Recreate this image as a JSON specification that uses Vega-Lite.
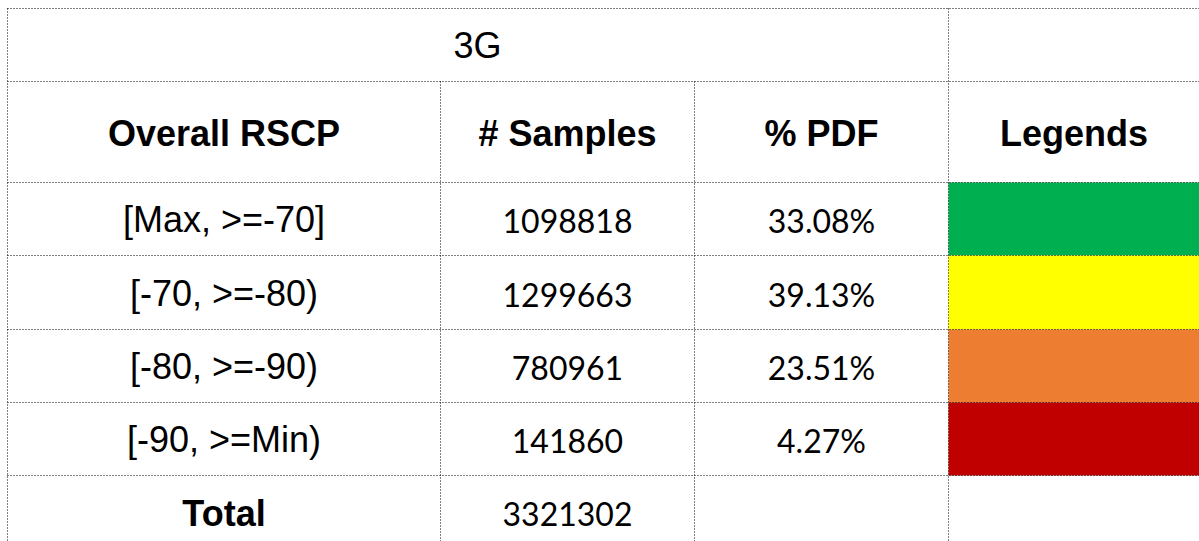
{
  "$schema": "https://vega.github.io/schema/vega-lite/v6.json",
  "width": 1199,
  "height": 541,
  "padding": 0,
  "autosize": {"type": "none"},
  "background": "white",
  "config": {"view": {"stroke": null}},
  "datasets": {
    "legendCells": [
      {"level": "[Max, >=-70]", "top": 2, "bottom": 3, "left": 3, "right": 4},
      {"level": "[-70, >=-80)", "top": 3, "bottom": 4, "left": 3, "right": 4},
      {"level": "[-80, >=-90)", "top": 4, "bottom": 5, "left": 3, "right": 4},
      {"level": "[-90, >=Min)", "top": 5, "bottom": 6, "left": 3, "right": 4}
    ],
    "grid": [
      {"x": 0, "x2": 4, "y": 0, "y2": 0},
      {"x": 0, "x2": 4, "y": 1, "y2": 1},
      {"x": 0, "x2": 4, "y": 2, "y2": 2},
      {"x": 0, "x2": 4, "y": 3, "y2": 3},
      {"x": 0, "x2": 4, "y": 4, "y2": 4},
      {"x": 0, "x2": 4, "y": 5, "y2": 5},
      {"x": 0, "x2": 4, "y": 6, "y2": 6},
      {"x": 0, "x2": 0, "y": 0, "y2": 7},
      {"x": 1, "x2": 1, "y": 1, "y2": 7},
      {"x": 2, "x2": 2, "y": 1, "y2": 7},
      {"x": 3, "x2": 3, "y": 0, "y2": 7}
    ],
    "cells": [
      {"text": "3G", "col": 1.146, "row": 0.5, "kind": "plain"},
      {"text": "Overall RSCP", "col": 0.5, "row": 1.5, "kind": "bold"},
      {"text": "# Samples", "col": 1.5, "row": 1.5, "kind": "bold"},
      {"text": "% PDF", "col": 2.5, "row": 1.5, "kind": "bold"},
      {"text": "Legends", "col": 3.5, "row": 1.5, "kind": "bold"},
      {"text": "[Max, >=-70]", "col": 0.5, "row": 2.5, "kind": "plain"},
      {"text": "1098818", "col": 1.5, "row": 2.5, "kind": "num"},
      {"text": "33.08%", "col": 2.5, "row": 2.5, "kind": "num"},
      {"text": "[-70, >=-80)", "col": 0.5, "row": 3.5, "kind": "plain"},
      {"text": "1299663", "col": 1.5, "row": 3.5, "kind": "num"},
      {"text": "39.13%", "col": 2.5, "row": 3.5, "kind": "num"},
      {"text": "[-80, >=-90)", "col": 0.5, "row": 4.5, "kind": "plain"},
      {"text": "780961", "col": 1.5, "row": 4.5, "kind": "num"},
      {"text": "23.51%", "col": 2.5, "row": 4.5, "kind": "num"},
      {"text": "[-90, >=Min)", "col": 0.5, "row": 5.5, "kind": "plain"},
      {"text": "141860", "col": 1.5, "row": 5.5, "kind": "num"},
      {"text": "4.27%", "col": 2.5, "row": 5.5, "kind": "num"},
      {"text": "Total", "col": 0.5, "row": 6.5, "kind": "bold"},
      {"text": "3321302", "col": 1.5, "row": 6.5, "kind": "num"}
    ]
  },
  "layer": [
    {
      "data": {"name": "legendCells"},
      "mark": {"type": "rect", "strokeWidth": 0},
      "encoding": {
        "x": {"field": "left", "type": "quantitative", "axis": null, "scale": {"domain": [0, 1, 2, 3, 4], "range": [7.5, 440.5, 694.5, 948.5, 1199.5], "nice": false, "zero": false}},
        "x2": {"field": "right"},
        "y": {"field": "top", "type": "quantitative", "axis": null, "scale": {"domain": [0, 1, 2, 3, 4, 5, 6, 7], "range": [8.5, 81.5, 182.5, 255.5, 329.5, 402.5, 475.5, 548.5], "nice": false, "zero": false}},
        "y2": {"field": "bottom"},
        "color": {"field": "level", "type": "nominal", "legend": null, "scale": {"domain": ["[Max, >=-70]", "[-70, >=-80)", "[-80, >=-90)", "[-90, >=Min)"], "range": ["#00B050", "#FFFF00", "#ED7D31", "#C00000"]}}
      }
    },
    {
      "data": {"name": "grid"},
      "mark": {"type": "rule", "color": "#000000", "strokeWidth": 1, "strokeDash": [1, 2]},
      "encoding": {
        "x": {"field": "x", "type": "quantitative", "axis": null, "scale": {"domain": [0, 1, 2, 3, 4], "range": [7.5, 440.5, 694.5, 948.5, 1199.5], "nice": false, "zero": false}},
        "x2": {"field": "x2"},
        "y": {"field": "y", "type": "quantitative", "axis": null, "scale": {"domain": [0, 1, 2, 3, 4, 5, 6, 7], "range": [8.5, 81.5, 182.5, 255.5, 329.5, 402.5, 475.5, 548.5], "nice": false, "zero": false}},
        "y2": {"field": "y2"}
      }
    },
    {
      "data": {"name": "cells"},
      "transform": [{"filter": "datum.kind === 'plain'"}],
      "mark": {"type": "text", "font": "Liberation Sans", "fontSize": 36, "align": "center", "baseline": "middle", "dy": 2, "color": "#000000"},
      "encoding": {
        "x": {"field": "col", "type": "quantitative", "axis": null, "scale": {"domain": [0, 1, 2, 3, 4], "range": [7.5, 440.5, 694.5, 948.5, 1199.5], "nice": false, "zero": false}},
        "y": {"field": "row", "type": "quantitative", "axis": null, "scale": {"domain": [0, 1, 2, 3, 4, 5, 6, 7], "range": [8.5, 81.5, 182.5, 255.5, 329.5, 402.5, 475.5, 548.5], "nice": false, "zero": false}},
        "text": {"field": "text"}
      }
    },
    {
      "data": {"name": "cells"},
      "transform": [{"filter": "datum.kind === 'bold'"}],
      "mark": {"type": "text", "font": "Liberation Sans", "fontWeight": "bold", "fontSize": 36, "align": "center", "baseline": "middle", "dy": 3, "color": "#000000"},
      "encoding": {
        "x": {"field": "col", "type": "quantitative", "axis": null, "scale": {"domain": [0, 1, 2, 3, 4], "range": [7.5, 440.5, 694.5, 948.5, 1199.5], "nice": false, "zero": false}},
        "y": {"field": "row", "type": "quantitative", "axis": null, "scale": {"domain": [0, 1, 2, 3, 4, 5, 6, 7], "range": [8.5, 81.5, 182.5, 255.5, 329.5, 402.5, 475.5, 548.5], "nice": false, "zero": false}},
        "text": {"field": "text"}
      }
    },
    {
      "data": {"name": "cells"},
      "transform": [{"filter": "datum.kind === 'num'"}],
      "mark": {"type": "text", "font": "Lato", "fontSize": 32, "align": "center", "baseline": "middle", "dy": 4, "color": "#000000"},
      "encoding": {
        "x": {"field": "col", "type": "quantitative", "axis": null, "scale": {"domain": [0, 1, 2, 3, 4], "range": [7.5, 440.5, 694.5, 948.5, 1199.5], "nice": false, "zero": false}},
        "y": {"field": "row", "type": "quantitative", "axis": null, "scale": {"domain": [0, 1, 2, 3, 4, 5, 6, 7], "range": [8.5, 81.5, 182.5, 255.5, 329.5, 402.5, 475.5, 548.5], "nice": false, "zero": false}},
        "text": {"field": "text"}
      }
    }
  ]
}
